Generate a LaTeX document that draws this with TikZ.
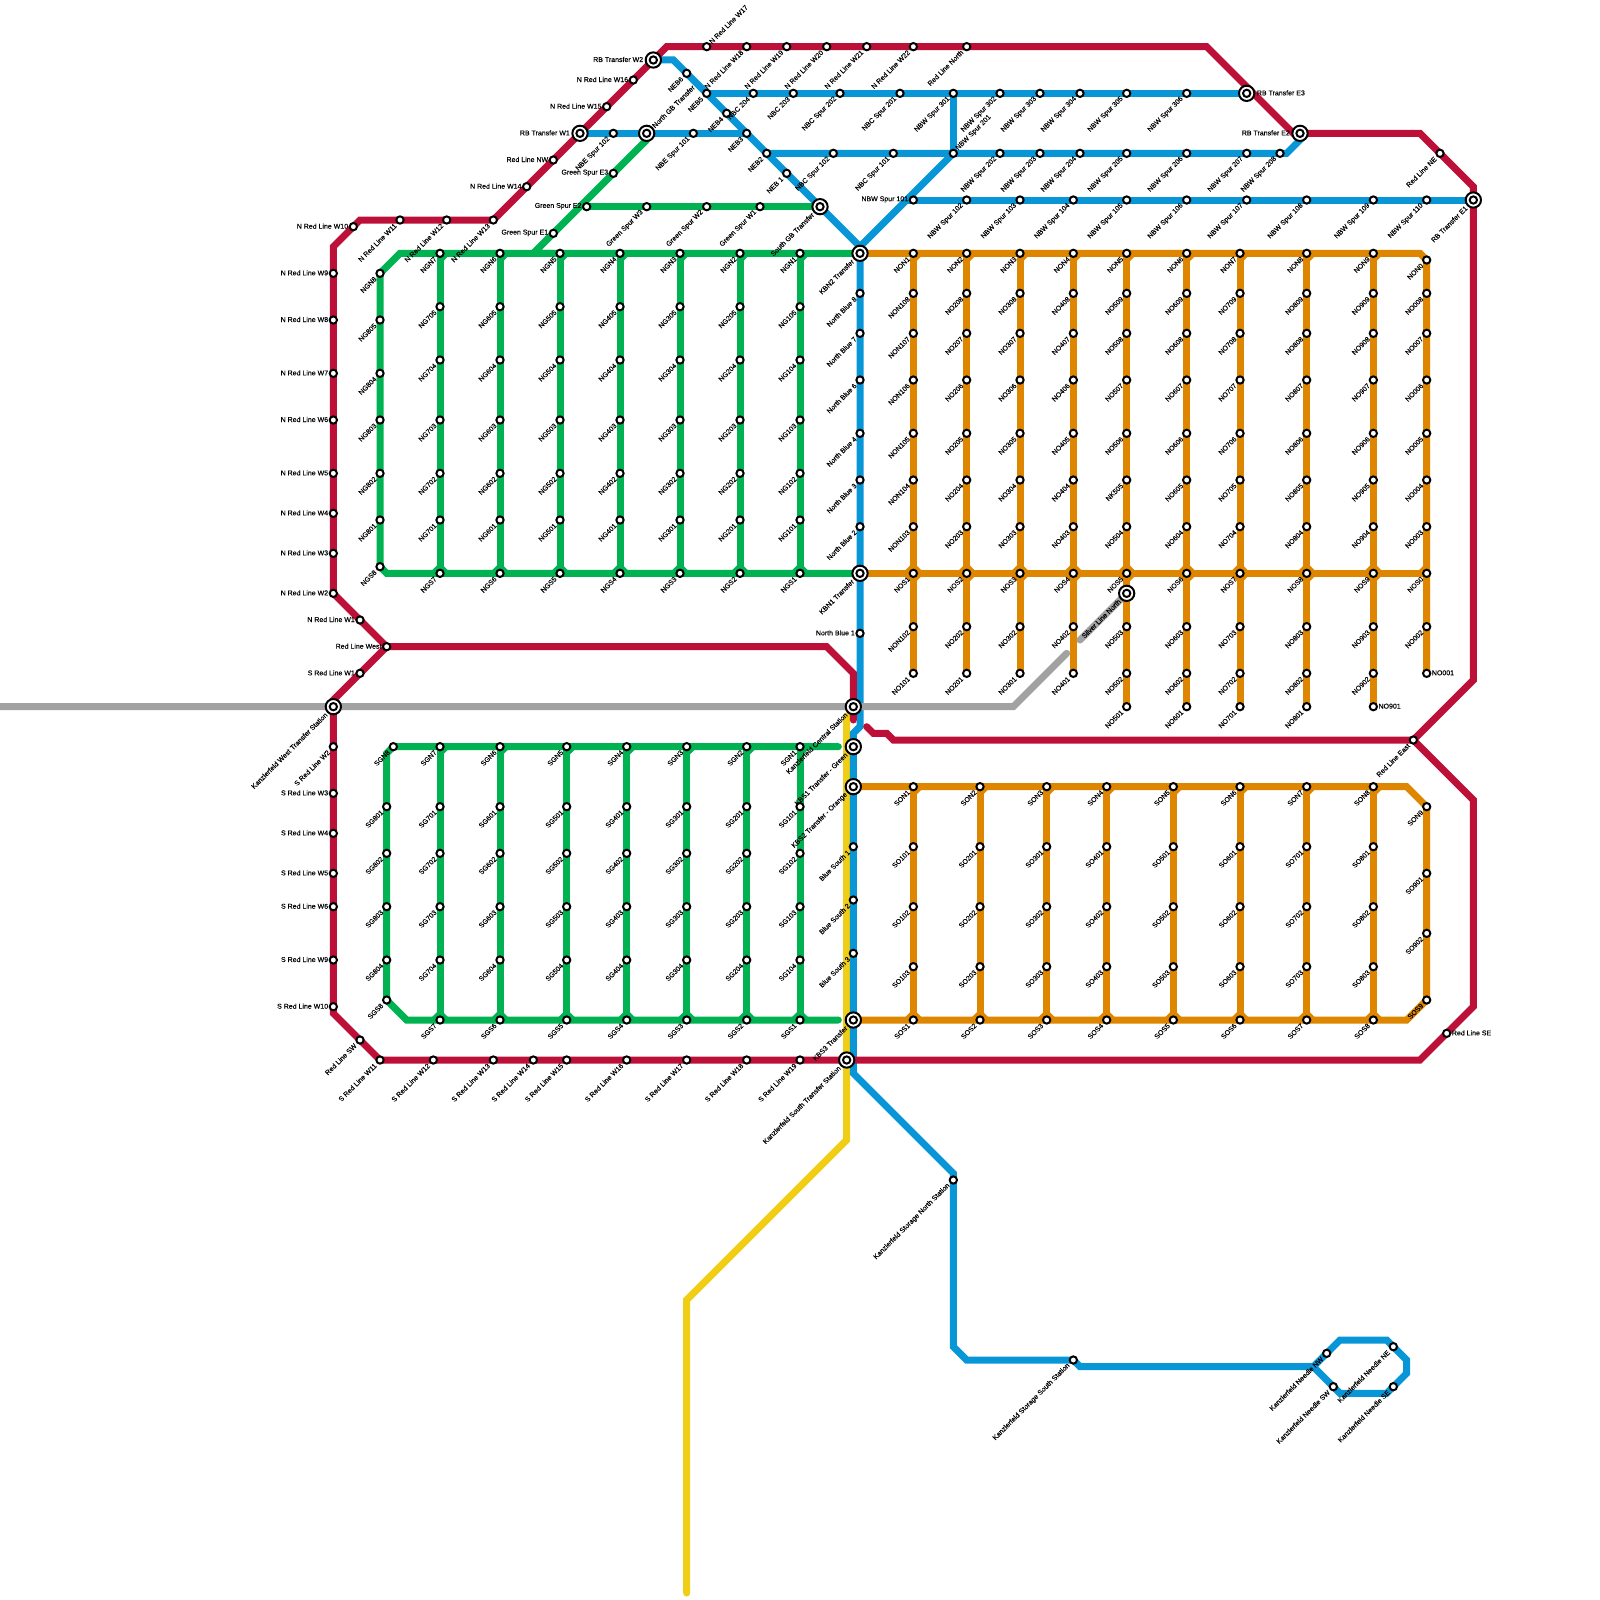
\documentclass[tikz,border=0pt]{standalone}
\usepackage{fontspec}
\setmainfont{Liberation Sans}[FakeBold=0.2]
\definecolor{redline}{HTML}{BD1038}
\definecolor{blueline}{HTML}{0896D7}
\definecolor{greenline}{HTML}{00B251}
\definecolor{orangeline}{HTML}{DF8600}
\definecolor{yellowline}{HTML}{F0CE15}
\definecolor{silverline}{HTML}{A2A2A2}
\pgfdeclarelayer{tracks}
\pgfsetlayers{tracks,main}
\tikzset{
  stnode/.style={circle,draw=black,fill=white,line width=2,minimum size=7.3,inner sep=0},
  xring/.style={circle,draw=black,fill=white,line width=2,minimum size=15.3,inner sep=0},
  lab/.style={font=\fontsize{7}{7}\selectfont,inner sep=0,text=black},
  lowlab/.style={lab,shift={(-4.5,4.5)},rotate=45,anchor=east},
  uplab/.style={lab,shift={(3.5,-4)},rotate=45,anchor=west},
  leftlab/.style={lab,shift={(-5,-0.5)},anchor=east},
  rightlab/.style={lab,shift={(5,-0.5)},anchor=west},
  xlowlab/.style={lab,shift={(-7,7)},rotate=45,anchor=east},
  xuplab/.style={lab,shift={(6.5,-6.5)},rotate=45,anchor=west},
  xleftlab/.style={lab,shift={(-10,-0.5)},anchor=east},
  xrightlab/.style={lab,shift={(10,-0.5)},anchor=west},
  track/.style={line width=7,line join=miter},
  redln/.style={track,redline,line cap=round},
  blueln/.style={track,blueline},
  greenln/.style={track,greenline},
  greenrnd/.style={greenln,line cap=round},
  orangeln/.style={track,orangeline},
  yellowln/.style={track,yellowline,line cap=round},
  silverln/.style={track,silverline,line cap=round},
}
% station with its label
\newcommand{\stn}[4][lowlab]{\node[stnode] (#2) at (#3) {}; \node[#1] (#2t) at (#2.center) {#4};}
% transfer station, two rings
\newcommand{\xfr}[4][xlowlab]{\node[xring] (#2) at (#3) {}; \node[stnode] (#2i) at (#3) {}; \node[#1] (#2t) at (#2.center) {#4};}
% small corner where a branch meets a row
\newcommand{\cham}[4]{\fill[#2] (#1.center) ++(3*#3,3*#4) -- ++(5*#3,0) -- ++(-5*#3,5*#4) -- cycle;}
\begin{document}
\begin{tikzpicture}[x=1pt,y=-1pt]
    \useasboundingbox (0,0) rectangle (1600,1600);

    % Transfers
    \xfr[xleftlab]{RBW1}{580,133.33}{RB Transfer W1}
    \xfr[xleftlab]{RBW2}{653.33,60}{RB Transfer W2}
    \xfr[xrightlab]{RBE3}{1246.67,93.33}{RB Transfer E3}
    \xfr[xleftlab]{RBE2}{1300,133.33}{RB Transfer E2}
    \xfr{RBE1}{1473.33,200}{RB Transfer E1}
    \xfr[xuplab]{NGT}{646.67,133.33}{North GB Transfer}
    \xfr{SGB}{820,206.67}{South GB Transfer}
    \xfr{KBN2}{860,253.33}{KBN2 Transfer}
    \xfr{KBN1}{860,573.33}{KBN1 Transfer}
    \xfr{KWT}{333.33,706.67}{Kanzlerfeld West Transfer Station}
    \xfr{KC}{853.33,706.67}{Kanzlerfeld Central Station}
    \xfr{KBS1}{853.33,746.67}{KBS1 Transfer - Green}
    \xfr{KBS2}{853.33,786.67}{KBS2 Transfer - Orange}
    \xfr{KBS3}{853.33,1020}{KBS3 Transfer}
    \xfr{KST}{846.67,1060}{Kanzlerfeld South Transfer Station}
    \xfr{SLN}{1126.67,593.33}{Silver Line North}

    % Red stations, north side
    \stn[leftlab]{NW1}{360,620}{N Red Line W1}
    \stn[leftlab]{NW2}{333.33,593.33}{N Red Line W2}
    \stn[leftlab]{NW3}{333.33,553.33}{N Red Line W3}
    \stn[leftlab]{NW4}{333.33,513.33}{N Red Line W4}
    \stn[leftlab]{NW5}{333.33,473.33}{N Red Line W5}
    \stn[leftlab]{NW6}{333.33,420}{N Red Line W6}
    \stn[leftlab]{NW7}{333.33,373.33}{N Red Line W7}
    \stn[leftlab]{NW8}{333.33,320}{N Red Line W8}
    \stn[leftlab]{NW9}{333.33,273.33}{N Red Line W9}
    \stn[leftlab]{NW10}{353.33,226.67}{N Red Line W10}
    \stn{NW11}{400,220}{N Red Line W11}
    \stn{NW12}{446.67,220}{N Red Line W12}
    \stn{NW13}{493.33,220}{N Red Line W13}
    \stn[leftlab]{NW14}{526.67,186.67}{N Red Line W14}
    \stn[leftlab]{RNW}{553.33,160}{Red Line NW}
    \stn[leftlab]{NW15}{606.67,106.67}{N Red Line W15}
    \stn[leftlab]{NW16}{633.33,80}{N Red Line W16}
    \stn[uplab]{NW17}{706.67,46.67}{N Red Line W17}
    \stn{NW18}{746.67,46.67}{N Red Line W18}
    \stn{NW19}{786.67,46.67}{N Red Line W19}
    \stn{NW20}{826.67,46.67}{N Red Line W20}
    \stn{NW21}{866.67,46.67}{N Red Line W21}
    \stn{NW22}{913.33,46.67}{N Red Line W22}
    \stn{RNorth}{966.67,46.67}{Red Line North}
    \stn{RNE}{1440,153.33}{Red Line NE}
    \stn{RE}{1413.33,740}{Red Line East}
    \stn[rightlab]{RSE}{1446.67,1033.33}{Red Line SE}
    \stn[leftlab]{RWest}{386.67,646.67}{Red Line West}

    % Red stations, south side
    \stn[leftlab]{SW1}{360,673.33}{S Red Line W1}
    \stn{SW2}{333.33,746.67}{S Red Line W2}
    \stn[leftlab]{SW3}{333.33,793.33}{S Red Line W3}
    \stn[leftlab]{SW4}{333.33,833.33}{S Red Line W4}
    \stn[leftlab]{SW5}{333.33,873.33}{S Red Line W5}
    \stn[leftlab]{SW6}{333.33,906.67}{S Red Line W6}
    \stn[leftlab]{SW9}{333.33,960}{S Red Line W9}
    \stn[leftlab]{SW10}{333.33,1006.67}{S Red Line W10}
    \stn{RSW}{360,1040}{Red Line SW}
    \stn{SW11}{380,1060}{S Red Line W11}
    \stn{SW12}{433.33,1060}{S Red Line W12}
    \stn{SW13}{493.33,1060}{S Red Line W13}
    \stn{SW14}{533.33,1060}{S Red Line W14}
    \stn{SW15}{566.67,1060}{S Red Line W15}
    \stn{SW16}{626.67,1060}{S Red Line W16}
    \stn{SW17}{686.67,1060}{S Red Line W17}
    \stn{SW18}{746.67,1060}{S Red Line W18}
    \stn{SW19}{800,1060}{S Red Line W19}

    % Blue stations
    \stn{NEB6}{686.67,73.33}{NEB6}
    \stn{NEB5}{706.67,93.33}{NEB5}
    \stn{NEB4}{726.67,113.33}{NEB4}
    \stn{NEB3}{746.67,133.33}{NEB3}
    \stn{NEB2}{766.67,153.33}{NEB2}
    \stn{NEB1}{786.67,173.33}{NEB 1}
    \stn{NBE102}{613.33,133.33}{NBE Spur 102}
    \stn{NBE101}{693.33,133.33}{NBE Spur 101}
    \stn{NBC204}{753.33,93.33}{NBC 204}
    \stn{NBC203}{793.33,93.33}{NBC 203}
    \stn{NBC202}{840,93.33}{NBC Spur 202}
    \stn{NBC201}{900,93.33}{NBC Spur 201}
    \stn{NBC102}{833.33,153.33}{NBC Spur 102}
    \stn{NBC101}{893.33,153.33}{NBC Spur 101}
    \stn{NBW301}{953.33,93.33}{NBW Spur 301}
    \foreach \nn/\xx in {302/1000,303/1040,304/1080,305/1126.67,306/1186.67}{
        \stn{NBW\nn}{\xx,93.33}{NBW Spur \nn}
    }
    \stn[uplab]{NBW201}{953.33,153.33}{NBW Spur 201}
    \foreach \nn/\xx in {202/1000,203/1040,204/1080,205/1126.67,206/1186.67,207/1246.67,208/1280}{
        \stn{NBW\nn}{\xx,153.33}{NBW Spur \nn}
    }
    \stn[leftlab]{NBW101}{913.33,200}{NBW Spur 101}
    \foreach \nn/\xx in {102/966.67,103/1020,104/1073.33,105/1126.67,106/1186.67,107/1246.67,108/1306.67,109/1373.33,110/1426.67}{
        \stn{NBW\nn}{\xx,200}{NBW Spur \nn}
    }
    \foreach \nn/\yy in {8/293.33,7/333.33,6/380,4/433.33,3/480,2/526.67}{
        \stn{NB\nn}{860,\yy}{North Blue \nn}
    }
    \stn[leftlab]{NB1}{860,633.33}{North Blue 1}
    \stn{BS1}{853.33,846.67}{Blue South 1}
    \stn{BS2}{853.33,900}{Blue South 2}
    \stn{BS3}{853.33,953.33}{Blue South 3}
    \stn{StorN}{953.33,1180}{Kanzlerfeld Storage North Station}
    \stn{StorS}{1073.33,1360}{Kanzlerfeld Storage South Station}
    \stn{NdNW}{1326.67,1353.33}{Kanzlerfeld Needle NW}
    \stn{NdNE}{1393.33,1346.67}{Kanzlerfeld Needle NE}
    \stn{NdSE}{1393.33,1386.67}{Kanzlerfeld Needle SE}
    \stn{NdSW}{1333.33,1386.67}{Kanzlerfeld Needle SW}

    % Green spur
    \stn[leftlab]{GSE3}{613.33,173.33}{Green Spur E3}
    \stn[leftlab]{GSE2}{586.67,206.67}{Green Spur E2}
    \stn[leftlab]{GSE1}{553.33,233.33}{Green Spur E1}
    \stn{GSW3}{646.67,206.67}{Green Spur W3}
    \stn{GSW2}{706.67,206.67}{Green Spur W2}
    \stn{GSW1}{760,206.67}{Green Spur W1}

    % North green grid
    \stn{NGN8}{380,273.33}{NGN8}
    \foreach \rw/\yy in {5/320,4/373.33,3/420,2/473.33,1/520}{
        \stn{NG80\rw}{380,\yy}{NG80\rw}
    }
    \stn{NGS8}{380,566.67}{NGS8}
    \foreach \cn/\xx in {7/440,6/500,5/560,4/620,3/680,2/740,1/800}{
        \stn{NGN\cn}{\xx,253.33}{NGN\cn}
        \foreach \rw/\yy in {5/306.67,4/360,3/420,2/473.33,1/520}{
            \stn{NG\cn0\rw}{\xx,\yy}{NG\cn0\rw}
        }
        \stn{NGS\cn}{\xx,573.33}{NGS\cn}
    }

    % South green grid
    \stn{SGN8}{393.33,746.67}{SGN8}
    \stn{SGS8}{386.67,1000}{SGS8}
    \foreach \rw/\yy in {1/806.67,2/853.33,3/906.67,4/960}{
        \stn{SG80\rw}{386.67,\yy}{SG80\rw}
    }
    \foreach \cn/\xx in {7/440,6/500,5/566.67,4/626.67,3/686.67,2/746.67,1/800}{
        \stn{SGN\cn}{\xx,746.67}{SGN\cn}
        \foreach \rw/\yy in {1/806.67,2/853.33,3/906.67,4/960}{
            \stn{SG\cn0\rw}{\xx,\yy}{SG\cn0\rw}
        }
        \stn{SGS\cn}{\xx,1020}{SGS\cn}
    }

    % North orange grid
    \foreach \cn/\xx/\pre in {1/913.33/NON,2/966.67/NO,3/1020/NO,4/1073.33/NO}{
        \stn{NON\cn}{\xx,253.33}{NON\cn}
        \foreach \rw/\yy in {8/293.33,7/333.33,6/380,5/433.33,4/480,3/526.67}{
            \stn{NO\cn0\rw}{\xx,\yy}{\pre\cn0\rw}
        }
        \stn{NOS\cn}{\xx,573.33}{NOS\cn}
        \stn{NO\cn02}{\xx,626.67}{\pre\cn02}
        \stn{NO\cn01}{\xx,673.33}{NO\cn01}
    }
    \foreach \cn/\xx in {5/1126.67,6/1186.67,7/1240,8/1306.67,9/1373.33}{
        \stn{NON\cn}{\xx,253.33}{NON\cn}
        \foreach \rw/\yy in {9/293.33,8/333.33,7/380,6/433.33,4/526.67}{
            \stn{NO\cn0\rw}{\xx,\yy}{NO\cn0\rw}
        }
        \stn{NOS\cn}{\xx,573.33}{NOS\cn}
        \stn{NO\cn03}{\xx,626.67}{NO\cn03}
        \stn{NO\cn02}{\xx,673.33}{NO\cn02}
    }
    \stn{NO505}{1126.67,480}{NK505}
    \foreach \cn/\xx in {6/1186.67,7/1240,8/1306.67,9/1373.33}{
        \stn{NO\cn05}{\xx,480}{NO\cn05}
    }
    \foreach \cn/\xx in {5/1126.67,6/1186.67,7/1240,8/1306.67}{
        \stn{NO\cn01}{\xx,706.67}{NO\cn01}
    }
    \stn[rightlab]{NO901}{1373.33,706.67}{NO901}
    \stn{NON0}{1426.67,260}{NON0}
    \foreach \rw/\yy in {8/293.33,7/333.33,6/380,5/433.33,4/480,3/526.67}{
        \stn{NO00\rw}{1426.67,\yy}{NO00\rw}
    }
    \stn{NOS0}{1426.67,573.33}{NOS0}
    \stn{NO002}{1426.67,626.67}{NO002}
    \stn[rightlab]{NO001}{1426.67,673.33}{NO001}

    % South orange grid
    \foreach \cn/\xx in {1/913.33,2/980,3/1046.67,4/1106.67,5/1173.33,6/1240,7/1306.67,8/1373.33}{
        \stn{SON\cn}{\xx,786.67}{SON\cn}
        \foreach \rw/\yy in {1/846.67,2/906.67,3/966.67}{
            \stn{SO\cn0\rw}{\xx,\yy}{SO\cn0\rw}
        }
        \stn{SOS\cn}{\xx,1020}{SOS\cn}
    }
    \stn{SON9}{1426.67,806.67}{SON9}
    \stn{SO901}{1426.67,873.33}{SO901}
    \stn{SO902}{1426.67,933.33}{SO902}
    \stn{SOS9}{1426.67,1000}{SOS9}

    % Bends of the lines
    \coordinate (r1) at (333.33,246.67);
    \coordinate (r2) at (360,220);
    \coordinate (r3) at (666.67,46.67);
    \coordinate (r4) at (1206.67,46.67);
    \coordinate (r5) at (1293.33,133.33);
    \coordinate (r6) at (1420,133.33);
    \coordinate (r7) at (1473.33,186.67);
    \coordinate (r8) at (1473.33,680);
    \coordinate (r9) at (1473.33,800);
    \coordinate (r10) at (1473.33,1006.67);
    \coordinate (r11) at (1420,1060);
    \coordinate (r12) at (333.33,1013.33);
    \coordinate (r13) at (826.67,646.67);
    \coordinate (r14) at (853.33,673.33);
    \coordinate (r15) at (853.33,720);
    \coordinate (r16) at (893.33,740);
    \coordinate (r17) at (886.67,733.33);
    \coordinate (r18) at (873.33,733.33);
    \coordinate (r19) at (866.67,726.67);
    \coordinate (r20) at (333.33,700);
    \coordinate (bn0) at (860,246.67);
    \coordinate (bn1) at (673.33,60);
    \coordinate (bn2) at (1286.67,153.33);
    \coordinate (bn3) at (1306.67,133.33);
    \coordinate (bn4) at (906.67,200);
    \coordinate (bc1) at (860,726.67);
    \coordinate (bc2) at (853.33,733.33);
    \coordinate (bc3) at (853.33,1073.33);
    \coordinate (bc4) at (953.33,1173.33);
    \coordinate (bc5) at (953.33,1346.67);
    \coordinate (bc6) at (966.67,1360);
    \coordinate (bc7) at (1080,1366.67);
    \coordinate (nd0) at (1313.33,1366.67);
    \coordinate (nd1) at (1340,1340);
    \coordinate (nd2) at (1386.67,1340);
    \coordinate (nd3) at (1406.67,1360);
    \coordinate (nd4) at (1406.67,1373.33);
    \coordinate (nd5) at (1386.67,1393.33);
    \coordinate (nd6) at (1340,1393.33);
    \coordinate (gn1) at (400,253.33);
    \coordinate (gn2) at (386.67,573.33);
    \coordinate (gn3) at (646.67,140);
    \coordinate (gn4) at (533.33,253.33);
    \coordinate (gn5) at (553.33,253.33);
    \coordinate (gs1) at (386.67,753.33);
    \coordinate (gs2) at (406.67,1020);
    \coordinate (gs3) at (838.33,746.67);
    \coordinate (gs4) at (838.33,1020);
    \coordinate (on1) at (1420,253.33);
    \coordinate (os1) at (1406.67,786.67);
    \coordinate (os2) at (1406.67,1020);
    \coordinate (y1) at (846.67,716);
    \coordinate (y2) at (846.67,1140);
    \coordinate (y3) at (686.67,1300);
    \coordinate (y4) at (686.67,1593);
    \coordinate (sv0) at (-5,706.67);
    \coordinate (sv1) at (1013.33,706.67);
    \coordinate (sv2) at (1066.67,653.33);
    \coordinate (sv3) at (1080,640);

    \begin{pgfonlayer}{tracks}
    % Yellow
    \draw[yellowln] (y1) -- (y2) -- (y3) -- (y4);

    % Blue
    \draw[blueln] (KBN2.center) -- (NB8.center) -- (NB2.center) -- (KBN1.center) -- (NB1.center) -- (bc1) -- (bc2) -- (KBS1.center) -- (KBS2.center) -- (BS1.center) -- (BS2.center) -- (BS3.center) -- (KBS3.center) -- (bc3) -- (bc4) -- (StorN.center) -- (bc5) -- (bc6) -- (StorS.center) -- (bc7) -- (nd0);
    \draw[blueln] (nd0) -- (NdNW.center) -- (nd1) -- (nd2) -- (NdNE.center) -- (nd3) -- (nd4) -- (NdSE.center) -- (nd5) -- (nd6) -- (NdSW.center) -- (nd0);
    \draw[blueln] (RBW2.center) -- (bn1) -- (NEB6.center) -- (NEB5.center) -- (NEB4.center) -- (NEB3.center) -- (NEB2.center) -- (NEB1.center) -- (SGB.center) -- (bn0) -- (NBW201.center);
    \draw[blueln] (bn0) -- (KBN2.center);
    \draw[blueln] (RBW1.center) -- (NBE102.center) -- (NGT.center) -- (NBE101.center) -- (NEB3.center);
    \draw[blueln] (NEB5.center) -- (NBC204.center) -- (NBC203.center) -- (NBC202.center) -- (NBC201.center) -- (NBW301.center) -- (NBW302.center) -- (NBW303.center) -- (NBW304.center) -- (NBW305.center) -- (NBW306.center) -- (RBE3.center);
    \draw[blueln] (NBW301.center) -- (NBW201.center);
    \draw[blueln] (NEB2.center) -- (NBC102.center) -- (NBC101.center) -- (NBW201.center) -- (NBW202.center) -- (NBW203.center) -- (NBW204.center) -- (NBW205.center) -- (NBW206.center) -- (NBW207.center) -- (NBW208.center) -- (bn2) -- (bn3);
    \draw[blueln] (bn4) -- (NBW101.center) -- (NBW102.center) -- (NBW103.center) -- (NBW104.center) -- (NBW105.center) -- (NBW106.center) -- (NBW107.center) -- (NBW108.center) -- (NBW109.center) -- (NBW110.center) -- (RBE1.center);

    % Green north
    \draw[greenln] (NGS8.center) -- (NG801.center) -- (NGN8.center) -- (gn1) -- (NGN7.center) -- (NGN6.center) -- (NGN5.center) -- (NGN4.center) -- (NGN3.center) -- (NGN2.center) -- (NGN1.center) -- (KBN2.center);
    \draw[greenln] (NGS8.center) -- (gn2) -- (NGS7.center) -- (NGS6.center) -- (NGS5.center) -- (NGS4.center) -- (NGS3.center) -- (NGS2.center) -- (NGS1.center) -- (KBN1.center);
    \draw[greenln,line join=bevel] (NGT.center) -- (gn3) -- (GSE3.center) -- (GSE1.center) -- (gn4) -- (gn5);
    \draw[greenln] (GSE2.center) -- (GSW3.center) -- (GSW2.center) -- (GSW1.center) -- (SGB.center);
    \foreach \cn in {7,...,1}{
        \draw[greenln] (NGN\cn.center) -- (NGS\cn.center);
        \cham{NGN\cn}{greenline}{1}{1}
        \cham{NGS\cn}{greenline}{1}{-1}
        \cham{NGS\cn}{greenline}{-1}{-1}
    }

    % Green south
    \draw[greenrnd] (SGS8.center) -- (SG804.center) -- (gs1) -- (SGN8.center) -- (SGN7.center) -- (SGN6.center) -- (SGN5.center) -- (SGN4.center) -- (SGN3.center) -- (SGN2.center) -- (SGN1.center) -- (gs3);
    \draw[greenrnd] (SGS8.center) -- (gs2) -- (SGS7.center) -- (SGS6.center) -- (SGS5.center) -- (SGS4.center) -- (SGS3.center) -- (SGS2.center) -- (SGS1.center) -- (gs4);
    \foreach \cn in {7,...,1}{
        \draw[greenln] (SGN\cn.center) -- (SGS\cn.center);
        \cham{SGN\cn}{greenline}{1}{1}
        \cham{SGS\cn}{greenline}{1}{-1}
        \cham{SGS\cn}{greenline}{-1}{-1}
    }

    % Orange north
    \draw[orangeln] (KBN2.center) -- (NON1.center) -- (NON2.center) -- (NON3.center) -- (NON4.center) -- (NON5.center) -- (NON6.center) -- (NON7.center) -- (NON8.center) -- (NON9.center) -- (on1) -- (NON0.center) -- (NOS0.center) -- (NO001.center);
    \draw[orangeln] (KBN1.center) -- (NOS1.center) -- (NOS2.center) -- (NOS3.center) -- (NOS4.center) -- (NOS5.center) -- (NOS6.center) -- (NOS7.center) -- (NOS8.center) -- (NOS9.center) -- (NOS0.center);
    \foreach \cn in {1,...,9}{
        \draw[orangeln] (NON\cn.center) -- (NOS\cn.center) -- (NO\cn01.center);
        \cham{NON\cn}{orangeline}{1}{1}
        \cham{NOS\cn}{orangeline}{1}{1}
        \cham{NOS\cn}{orangeline}{-1}{1}
        \cham{NOS\cn}{orangeline}{1}{-1}
        \cham{NOS\cn}{orangeline}{-1}{-1}
    }
    \cham{NOS0}{orangeline}{-1}{-1}

    % Orange south
    \draw[orangeln] (KBS2.center) -- (SON1.center) -- (SON2.center) -- (SON3.center) -- (SON4.center) -- (SON5.center) -- (SON6.center) -- (SON7.center) -- (SON8.center) -- (os1) -- (SON9.center) -- (SOS9.center) -- (os2) -- (SOS8.center) -- (SOS7.center) -- (SOS6.center) -- (SOS5.center) -- (SOS4.center) -- (SOS3.center) -- (SOS2.center) -- (SOS1.center) -- (KBS3.center);
    \foreach \cn in {1,...,8}{
        \draw[orangeln] (SON\cn.center) -- (SOS\cn.center);
        \cham{SON\cn}{orangeline}{1}{1}
        \cham{SOS\cn}{orangeline}{1}{-1}
        \cham{SOS\cn}{orangeline}{-1}{-1}
    }

    % Silver
    \draw[silverln] (sv0) -- (KWT.center) -- (KC.center) -- (sv1) -- (sv2);
    \draw[silverln] (sv3) -- (SLN.center);

    % Red
    \draw[redln] (RWest.center) -- (NW1.center) -- (NW2.center) -- (NW3.center) -- (NW4.center) -- (NW5.center) -- (NW6.center) -- (NW7.center) -- (NW8.center) -- (NW9.center) -- (r1) -- (NW10.center) -- (r2) -- (NW11.center) -- (NW12.center) -- (NW13.center) -- (NW14.center) -- (RNW.center) -- (RBW1.center) -- (NW15.center) -- (NW16.center) -- (RBW2.center) -- (r3) -- (NW17.center) -- (NW18.center) -- (NW19.center) -- (NW20.center) -- (NW21.center) -- (NW22.center) -- (RNorth.center) -- (r4) -- (r5) -- (RBE2.center) -- (r6) -- (RNE.center) -- (r7) -- (RBE1.center) -- (r8) -- (RE.center);
    \draw[redln] (RE.center) -- (r9) -- (r10) -- (RSE.center) -- (r11) -- (KST.center) -- (SW19.center) -- (SW18.center) -- (SW17.center) -- (SW16.center) -- (SW15.center) -- (SW14.center) -- (SW13.center) -- (SW12.center) -- (SW11.center) -- (RSW.center) -- (r12) -- (SW10.center) -- (SW9.center) -- (SW6.center) -- (SW5.center) -- (SW4.center) -- (SW3.center) -- (SW2.center) -- (KWT.center) -- (r20) -- (SW1.center) -- (RWest.center) -- (r13) -- (r14) -- (KC.center) -- (r15);
    \draw[redln] (RE.center) -- (r16) -- (r17) -- (r18) -- (r19);
    \end{pgfonlayer}
\end{tikzpicture}
\end{document}
